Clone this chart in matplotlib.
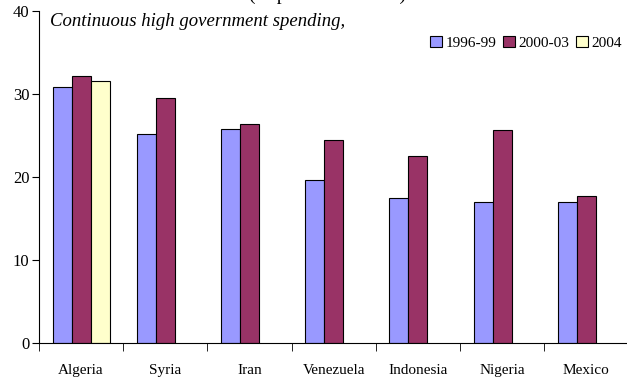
import numpy as np
import matplotlib.pyplot as plt

# Government spending, percent of GDP
countries = ['Algeria', 'Syria', 'Iran', 'Venezuela', 'Indonesia', 'Nigeria', 'Mexico']
spend_9699 = [30.8, 25.2, 25.8, 19.6, 17.5, 17.0, 17.0]
spend_0003 = [32.2, 29.5, 26.4, 24.5, 22.5, 25.7, 17.7]
spend_2004 = [31.6]  # only Algeria
series_labels = ['1996-99', '2000-03', '2004']

plt.rcParams['font.family'] = ['Liberation Serif', 'DejaVu Serif']

fig = plt.figure(figsize=(6.27, 3.81), dpi=100)
ax = fig.add_axes([0.0622, 0.0997, 0.94, 0.871])

x = np.arange(len(countries))
w = 0.225
kw = dict(edgecolor='black', linewidth=0.8)
ax.bar(x - w, spend_9699, w, color='#9999FF', label=series_labels[0], **kw)
ax.bar(x, spend_0003, w, color='#993366', label=series_labels[1], **kw)
ax.bar(x[:len(spend_2004)] + w, spend_2004, w, color='#FFFFCC', label=series_labels[2], **kw)

ax.set_xlim(-0.5, len(countries) - 0.5)
ax.set_ylim(0, 40)
ax.set_yticks([0, 10, 20, 30, 40])
ax.set_xticks(x)
ax.set_xticklabels(countries, fontsize=11)
ax.set_xticks(np.arange(len(countries)) - 0.5, minor=True)
ax.tick_params(axis='x', which='major', length=0, pad=15)
ax.tick_params(axis='x', which='minor', length=6, direction='out')
ax.tick_params(axis='y', length=5, direction='out', labelsize=12, pad=2)
for s in ['top', 'right']:
    ax.spines[s].set_visible(False)
for s in ['left', 'bottom']:
    ax.spines[s].set_linewidth(0.8)

ax.text(0.018, 0.968, 'Continuous high government spending,', transform=ax.transAxes,
        fontsize=13.5, style='italic', va='center', ha='left')

ax.legend(loc='upper right', bbox_to_anchor=(1.0, 0.945), ncol=3, frameon=False,
          fontsize=11, handlelength=0.8, handleheight=0.8, handletextpad=0.25,
          columnspacing=0.4, borderaxespad=0)

# title cut off by top of the image
fig.text(0.523, 1 + 0.5 / 381, '(In percent of GDP)', fontsize=14, ha='center', va='baseline')

fig.savefig('out.png', dpi=100)
